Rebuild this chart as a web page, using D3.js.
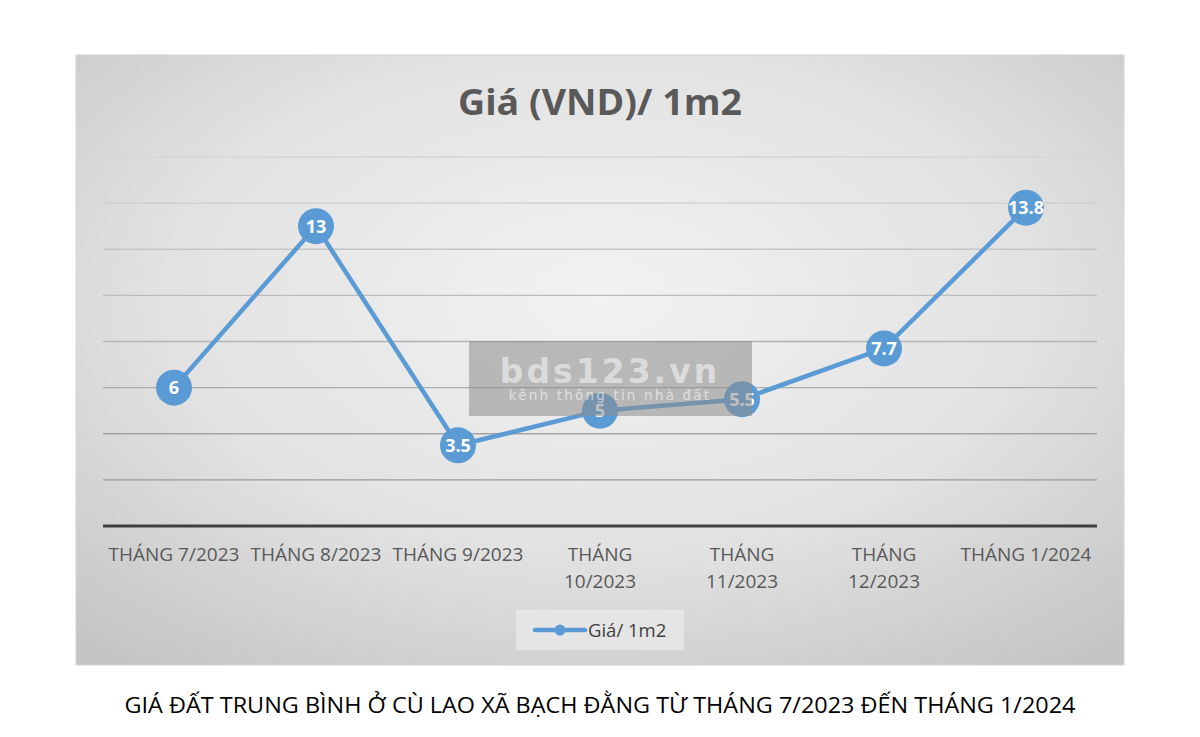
<!DOCTYPE html>
<html><head><meta charset="utf-8">
<script src="https://cdn.jsdelivr.net/npm/d3@7"></script>
<style>body{margin:0;background:#fff;}svg{display:block;}</style>
</head><body>
<svg id="c" width="1200" height="737"></svg>
<script>
const categories = [["THÁNG 7/2023"],["THÁNG 8/2023"],["THÁNG 9/2023"],["THÁNG","10/2023"],["THÁNG","11/2023"],["THÁNG","12/2023"],["THÁNG 1/2024"]];
const values = [6, 13, 3.5, 5, 5.5, 7.7, 13.8];
const yTicks = [2, 4, 6, 8, 10, 12, 14, 16];
const seriesName = "Giá/ 1m2";
const chartTitle = "Giá (VND)/ 1m2";
const caption = "GIÁ ĐẤT TRUNG BÌNH Ở CÙ LAO XÃ BẠCH ĐẰNG TỪ THÁNG 7/2023 ĐẾN THÁNG 1/2024";

const svg = d3.select("#c");
const defs = svg.append("defs");
const rg = defs.append("radialGradient").attr("id","bg").attr("cx","50%").attr("cy","40%").attr("r","75%");
rg.append("stop").attr("offset","0%").attr("stop-color","#f2f2f2");
rg.append("stop").attr("offset","55%").attr("stop-color","#e2e2e2");
rg.append("stop").attr("offset","100%").attr("stop-color","#c4c4c4");

const box = {x:76, y:55, w:1048, h:610};
svg.append("rect").attr("x",box.x).attr("y",box.y).attr("width",box.w).attr("height",box.h)
  .attr("fill","url(#bg)").attr("stroke","#d4d4d4").attr("stroke-width",1);

const plot = {l:103, r:1097, t:157, b:526};
const x = d3.scalePoint().domain(d3.range(categories.length)).range([plot.l, plot.r]).padding(0.5);
const y = d3.scaleLinear().domain([0,16]).range([plot.b, plot.t]);

const gridColor = d3.scaleLinear().domain([2,16]).range(["#9a9a9a","#d6d6d6"]);
svg.append("g").selectAll("line").data(yTicks).join("line")
  .attr("x1",plot.l).attr("x2",plot.r)
  .attr("y1",d=>y(d)).attr("y2",d=>y(d))
  .attr("stroke",d=>gridColor(d)).attr("stroke-width",1.3);

svg.append("line").attr("x1",plot.l).attr("x2",plot.r).attr("y1",y(0)).attr("y2",y(0))
  .attr("stroke","#404040").attr("stroke-width",3);

// title
svg.append("text").attr("x",600).attr("y",115).attr("text-anchor","middle")
  .attr("font-family","'Open Sans', sans-serif").attr("font-weight","bold").attr("font-size",35)
  .attr("textLength",284).attr("lengthAdjust","spacingAndGlyphs")
  .attr("fill","#595959").text(chartTitle);

// x labels
const xl = svg.append("g").attr("font-family","'Open Sans', sans-serif").attr("font-size",19).attr("fill","#595959");
categories.forEach((lines,i)=>{
  const t = xl.append("text").attr("x",x(i)).attr("y",561).attr("text-anchor","middle");
  lines.forEach((ln,j)=>t.append("tspan").attr("x",x(i)).attr("dy", j===0?0:27).text(ln));
});

// line
const line = d3.line().x((d,i)=>x(i)).y(d=>y(d));
svg.append("path").datum(values).attr("d",line).attr("fill","none")
  .attr("stroke","#5b9bd5").attr("stroke-width",4.5).attr("stroke-linejoin","round");

// markers
svg.append("g").selectAll("circle").data(values).join("circle")
  .attr("cx",(d,i)=>x(i)).attr("cy",d=>y(d)).attr("r",18).attr("fill","#5b9bd5");
svg.append("g").selectAll("text").data(values).join("text")
  .attr("x",(d,i)=>x(i)).attr("y",d=>y(d)+6.5).attr("text-anchor","middle")
  .attr("font-family","'Open Sans', sans-serif").attr("font-weight","bold").attr("font-size",18)
  .attr("fill","#ffffff").text(d=>d);

// watermark
svg.append("rect").attr("x",469).attr("y",341).attr("width",283).attr("height",75)
  .attr("fill","#8c8c8c").attr("opacity",0.55);
svg.append("text").attr("x",610).attr("y",383).attr("text-anchor","middle")
  .attr("font-family","'DejaVu Sans', sans-serif").attr("font-weight","bold").attr("font-size",33)
  .attr("letter-spacing",3).attr("fill","#ffffff").attr("opacity",0.5).text("bds123.vn");
svg.append("text").attr("x",610).attr("y",400).attr("text-anchor","middle")
  .attr("font-family","'DejaVu Sans', sans-serif").attr("font-size",13.5)
  .attr("letter-spacing",2.2).attr("fill","#ffffff").attr("opacity",0.55).text("kênh thông tin nhà đất");

// legend
svg.append("rect").attr("x",516).attr("y",610).attr("width",168).attr("height",40).attr("fill","#e8e8e8").attr("opacity",0.85);
svg.append("line").attr("x1",535).attr("x2",585).attr("y1",630).attr("y2",630).attr("stroke","#5b9bd5").attr("stroke-width",4.5).attr("stroke-linecap","round");
svg.append("circle").attr("cx",560).attr("cy",630).attr("r",5.5).attr("fill","#5b9bd5");
svg.append("text").attr("x",588).attr("y",637).attr("font-family","'Open Sans', sans-serif").attr("font-size",18.5)
  .attr("fill","#404040").text(seriesName);

// caption
svg.append("text").attr("x",600).attr("y",713).attr("text-anchor","middle")
  .attr("font-family","'Open Sans', sans-serif").attr("font-size",21)
  .attr("textLength",951).attr("lengthAdjust","spacingAndGlyphs")
  .attr("fill","#000").text(caption);
</script>
</body></html>
